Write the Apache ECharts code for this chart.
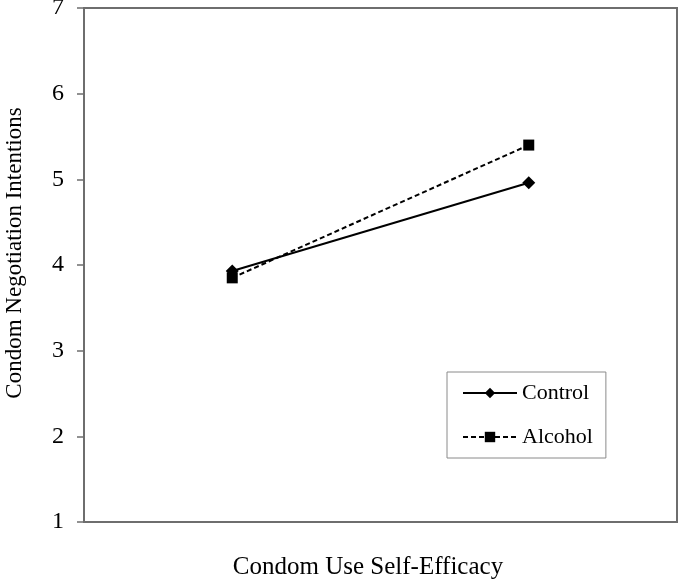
<!DOCTYPE html>
<html><head><meta charset="utf-8">
<script src="https://cdn.jsdelivr.net/npm/echarts@6/dist/echarts.min.js"></script>
<style>html,body{margin:0;padding:0;background:#fff}#c{width:680px;height:579px}</style>
</head><body><div id="c"></div>
<script>
var categories = ['Low', 'High'];
var controlValues = [3.93, 4.96];
var alcoholValues = [3.85, 5.40];
var yTicks = [1, 2, 3, 4, 5, 6, 7];

var font = 'Liberation Serif';
var chart = echarts.init(document.getElementById('c'), null, {renderer: 'canvas'});
chart.setOption({
  animation: false,
  backgroundColor: '#fff',
  grid: {left: 84, right: 3, top: 8, bottom: 57, show: true, borderColor: '#6e6e6e', borderWidth: 2, backgroundColor: 'transparent', containLabel: false, outerBoundsMode: 'none'},
  xAxis: {
    type: 'category', data: categories, boundaryGap: true,
    axisLine: {lineStyle: {color: '#6e6e6e', width: 2}},
    axisTick: {show: false}, axisLabel: {show: false},
    name: 'Condom Use Self-Efficacy', nameLocation: 'middle', nameGap: 33,
    nameTextStyle: {fontFamily: font, fontSize: 25, color: '#000', padding: [0, 25, 0, 0]}
  },
  yAxis: {
    type: 'value', min: yTicks[0], max: yTicks[yTicks.length - 1], interval: 1,
    axisLine: {show: true, lineStyle: {color: '#6e6e6e', width: 2}},
    axisTick: {show: true, length: 7, lineStyle: {color: '#6e6e6e', width: 1.5}},
    splitLine: {show: false},
    axisLabel: {fontFamily: font, fontSize: 24, color: '#000', margin: 20},
    name: 'Condom Negotiation Intentions', nameLocation: 'middle', nameGap: 58,
    nameTextStyle: {fontFamily: font, fontSize: 23, color: '#000', padding: [0, 0, 0, 24]}
  },
  legend: {
    orient: 'vertical', left: 447, top: 372,
    padding: [10, 13, 10, 15], itemGap: 22, itemWidth: 54, itemHeight: 13,
    borderColor: '#8a8a8a', borderWidth: 1,
    textStyle: {fontFamily: font, fontSize: 22, color: '#000'},
    data: ['Control', 'Alcohol']
  },
  series: [
    {name: 'Control', type: 'line', data: controlValues, symbol: 'diamond', symbolSize: 13,
     lineStyle: {color: '#000', width: 2}, itemStyle: {color: '#000'}},
    {name: 'Alcohol', type: 'line', data: alcoholValues, symbol: 'rect', symbolSize: 11,
     lineStyle: {color: '#000', width: 2, type: [5, 3]}, itemStyle: {color: '#000'}}
  ]
});
</script></body></html>
